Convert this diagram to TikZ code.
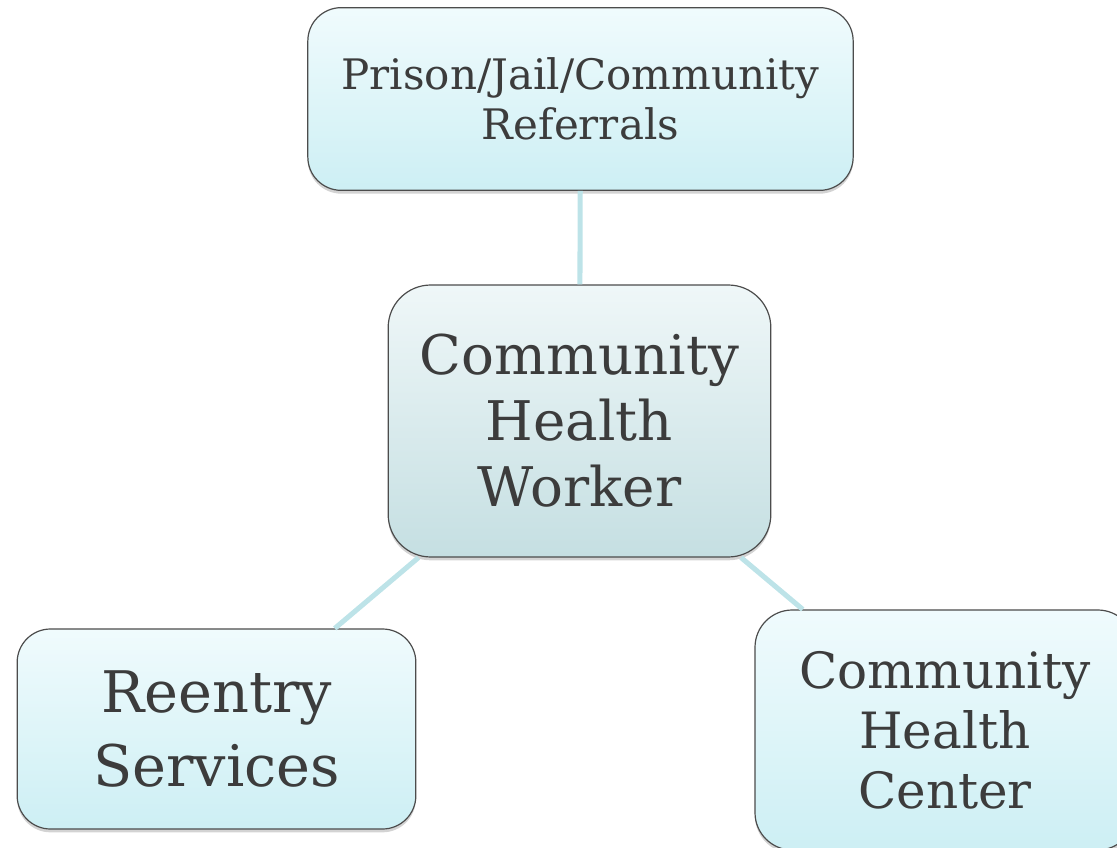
\documentclass[tikz,border=0pt]{standalone}
\usepackage{fontspec}
\setmainfont{DejaVu Serif}
\usepackage{xcolor}
\usepackage{tikz}
\usetikzlibrary{shadows}

\definecolor{boxtop}{HTML}{F0FBFD}
\definecolor{boxbot}{HTML}{CDEFF4}
\definecolor{hubtop}{HTML}{EFF7F8}
\definecolor{hubbot}{HTML}{C5DFE2}
\definecolor{linkcol}{HTML}{BDE3E8}
\definecolor{textgray}{HTML}{3C3C3C}

\begin{document}
\begin{tikzpicture}[
    x=0.75pt, y=-0.75pt,
    box/.style={draw=black!70, line width=0.9pt, rounded corners=25pt, align=center,
        text=textgray, top color=boxtop, bottom color=boxbot,
        drop shadow={opacity=0.35, shadow xshift=0pt, shadow yshift=-2.5pt}},
    hub/.style={box, rounded corners=32pt, top color=hubtop, bottom color=hubbot},
    link/.style={draw=linkcol, line width=3.8pt}
]
    \useasboundingbox (0,0) rectangle (1117,848);
    % the four boxes
    \node[box, minimum width=409pt, minimum height=137pt,
          font=\fontsize{31.5}{37.5}\selectfont] at (580.5,99) (referrals) {Prison/Jail/Community\\Referrals};
    \node[hub, minimum width=287pt, minimum height=204pt,
          font=\fontsize{41}{49.5}\selectfont] at (579.5,421) (chw) {Community\\Health\\Worker};
    \node[box, minimum width=299pt, minimum height=150pt,
          font=\fontsize{43}{56}\selectfont] at (216.5,729) (reentry) {Reentry\\Services};
    \node[box, rounded corners=28pt, minimum width=285pt, minimum height=180pt,
          font=\fontsize{37.5}{45}\selectfont] at (945,730) (chc) {Community\\Health\\Center};
    % links to the hub
    \draw[link] (referrals) -- (chw);
    \draw[link] (chw) -- (reentry);
    \draw[link] (chw) -- (chc);
\end{tikzpicture}
\end{document}
